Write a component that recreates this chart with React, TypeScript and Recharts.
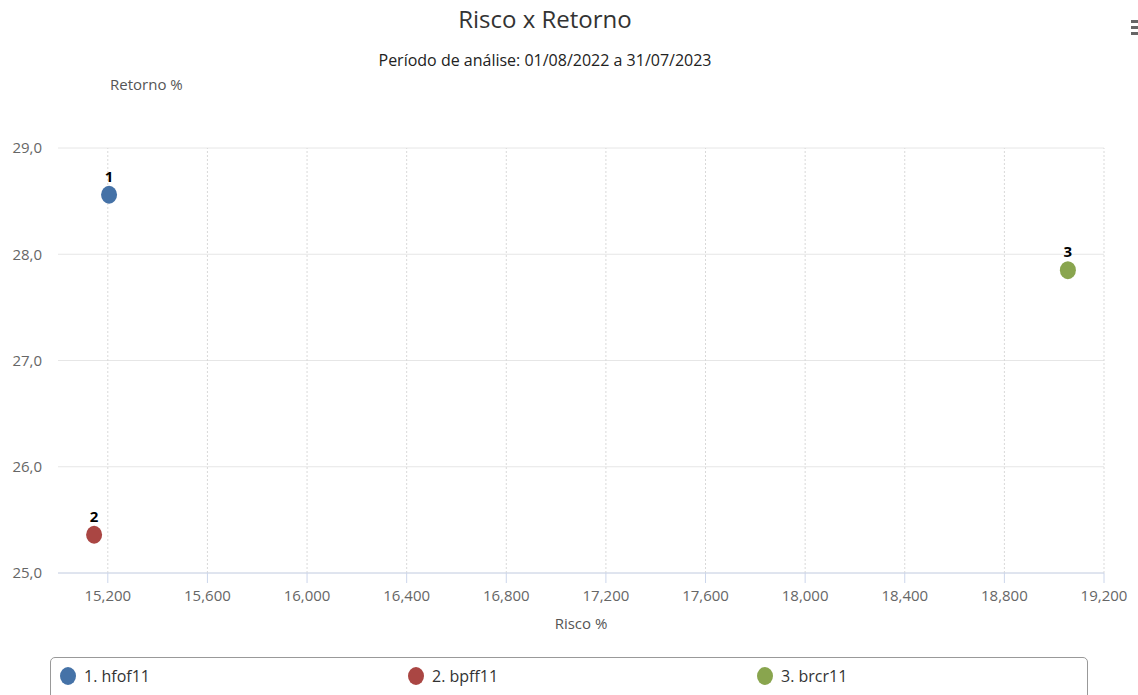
import {
  ScatterChart,
  Scatter,
  CartesianGrid,
  XAxis,
  YAxis,
  Label,
  ReferenceLine,
} from "recharts";

const tickers = ["hfof11", "bpff11", "brcr11"];
const risco = [15205, 15145, 19055];
const retorno = [28.56, 25.36, 27.85];
const colors = ["#4572A7", "#AA4643", "#89A54E"];

const xTicks = [15200, 15600, 16000, 16400, 16800, 17200, 17600, 18000, 18400, 18800, 19200];
const yTicks = [25, 26, 27, 28, 29];

const series = tickers.map((name, i) => ({
  name: `${i + 1}. ${name}`,
  color: colors[i],
  data: [{ id: i + 1, x: risco[i], y: retorno[i] }],
}));

const FONT = "'Open Sans', 'DejaVu Sans', sans-serif";

const fmtX = (v: number) => v.toLocaleString("en-US");
const fmtY = (v: number) => v.toFixed(1).replace(".", ",");

const makeShape = (color: string) => (props: any) => {
  const { cx, cy, payload } = props;
  return (
    <g>
      <ellipse cx={cx} cy={cy} rx={8} ry={9} fill={color} />
      <text
        x={cx}
        y={cy - 13}
        textAnchor="middle"
        fontSize={15}
        fontWeight="bold"
        fill="#000"
        fontFamily={FONT}
      >
        {payload.id}
      </text>
    </g>
  );
};

const App = () => {
  return (
    <div
      style={{
        position: "absolute",
        left: 0,
        top: 0,
        width: 1138,
        height: 695,
        background: "#fff",
        fontFamily: FONT,
        overflow: "hidden",
      }}
    >
      <div
        style={{
          position: "absolute",
          left: 0,
          width: 1090,
          top: 2,
          textAlign: "center",
          fontSize: 24,
          color: "#333",
        }}
      >
        Risco x Retorno
      </div>
      <div
        style={{
          position: "absolute",
          left: 0,
          width: 1090,
          top: 49,
          textAlign: "center",
          fontSize: 16,
          color: "#222",
        }}
      >
        Período de análise: 01/08/2022 a 31/07/2023
      </div>
      <div
        style={{
          position: "absolute",
          left: 110,
          top: 74,
          fontSize: 15,
          color: "#555",
        }}
      >
        Retorno %
      </div>
      {[20, 26, 32].map((t) => (
        <div
          key={t}
          style={{
            position: "absolute",
            left: 1131,
            top: t,
            width: 10,
            height: 3,
            background: "#666",
          }}
        />
      ))}

      <ScatterChart
        width={1138}
        height={695}
        margin={{ top: 148, right: 34, bottom: 82, left: 8 }}
        style={{ position: "absolute", left: 0, top: 0 }}
      >
        <CartesianGrid vertical={false} stroke="#e6e6e6" />
        {/* dotted vertical grid at the x ticks only */}
        {xTicks.map((t) => (
          <ReferenceLine key={t} x={t} stroke="#d9d9d9" strokeDasharray="2 2" />
        ))}
        <XAxis
          type="number"
          dataKey="x"
          domain={[15000, 19200]}
          ticks={xTicks}
          tickFormatter={fmtX}
          allowDataOverflow
          stroke="#ccd6eb"
          tickSize={10}
          tickMargin={7}
          height={40}
          tick={{ fill: "#666", fontSize: 15, fontFamily: FONT }}
        >
          <Label
            value="Risco %"
            position="bottom"
            offset={5}
            fill="#555"
            fontSize={15}
            fontFamily={FONT}
          />
        </XAxis>
        <YAxis
          type="number"
          dataKey="y"
          domain={[25, 29]}
          ticks={yTicks}
          tickFormatter={fmtY}
          allowDataOverflow
          axisLine={false}
          tickLine={false}
          tickSize={0}
          tickMargin={16}
          width={50}
          tick={{ fill: "#666", fontSize: 15, fontFamily: FONT }}
        />
        {series.map((s) => (
          <Scatter
            key={s.name}
            name={s.name}
            data={s.data}
            fill={s.color}
            shape={makeShape(s.color)}
            isAnimationActive={false}
          />
        ))}
      </ScatterChart>

      <div
        style={{
          position: "absolute",
          left: 50,
          top: 657,
          width: 1036,
          height: 50,
          border: "1px solid #999",
          borderRadius: 5,
        }}
      />
      {series.map((s, i) => (
        <div
          key={s.name}
          style={{
            position: "absolute",
            left: [60, 408, 757][i],
            top: 665,
            display: "flex",
            alignItems: "center",
            fontSize: 16,
            color: "#333",
          }}
        >
          <span
            style={{
              display: "inline-block",
              width: 16,
              height: 18,
              borderRadius: "50%",
              background: s.color,
              marginRight: 8,
            }}
          />
          {s.name}
        </div>
      ))}
    </div>
  );
};

export default App;
